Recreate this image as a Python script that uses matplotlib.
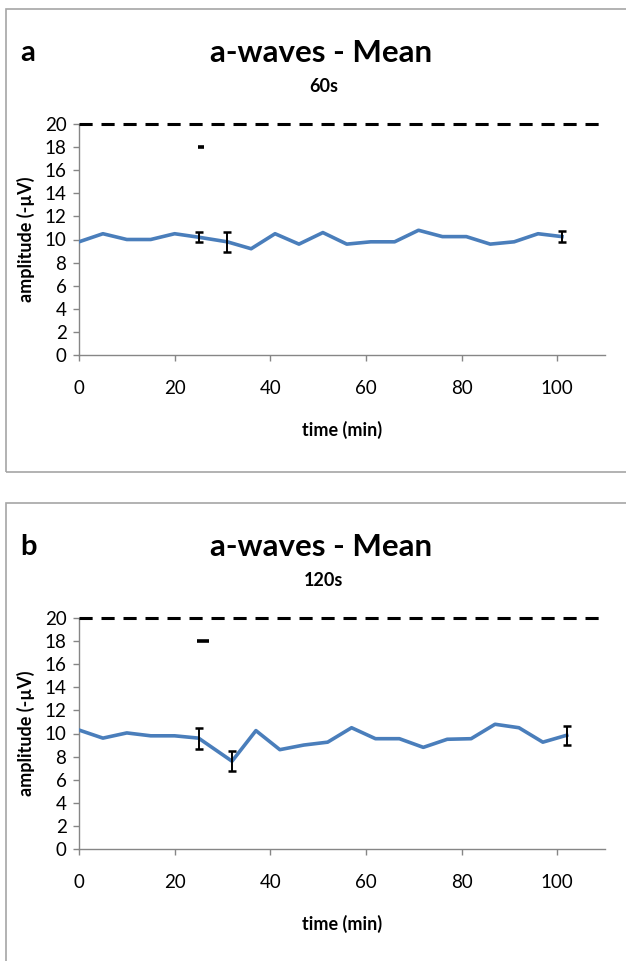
import matplotlib
matplotlib.use("Agg")
import matplotlib.pyplot as plt
from matplotlib.patches import Rectangle

plt.rcParams['font.family'] = ['Lato', 'DejaVu Sans']

# data
time_a = [0, 5, 10, 15, 20, 25, 31, 36, 41, 46, 51, 56, 61, 66, 71, 76, 81, 86, 91, 96, 101]
amp_a = [9.8, 10.5, 10.0, 10.0, 10.5, 10.2, 9.8, 9.2, 10.5, 9.6, 10.6,
         9.6, 9.8, 9.8, 10.8, 10.25, 10.25, 9.6, 9.8, 10.5, 10.25]
err_idx_a = [5, 6, 20]
err_a = [0.45, 0.85, 0.45]

time_b = [0, 5, 10, 15, 20, 25, 32, 37, 42, 47, 52, 57, 62, 67, 72, 77, 82, 87, 92, 97, 102]
amp_b = [10.3, 9.6, 10.05, 9.8, 9.8, 9.6, 7.6, 10.25, 8.6, 9.0, 9.25,
         10.5, 9.55, 9.55, 8.8, 9.5, 9.55, 10.8, 10.5, 9.25, 9.85]
err_idx_b = [5, 6, 20]
err_b = [0.9, 0.88, 0.83]

sig_a = (25.5, 18)
sig_b = (26, 18)
ref_level = 20

W, H = 626, 961
fig = plt.figure(figsize=(W / 100, H / 100), dpi=100)


def fx(x):
    return x / W


def fy(y):
    return 1 - y / H


def panel(top_px, bottom_px, letter, subtitle, t, amp, eidx, err, sig, sig_w):
    # the chart box (gray frame)
    fig.patches.append(Rectangle((fx(6), fy(bottom_px)), fx(640),
                                 (bottom_px - top_px) / H,
                                 transform=fig.transFigure, fill=False,
                                 edgecolor='#a6a6a6', lw=1.2))
    y0 = top_px + 346   # pixel of 0
    y20 = top_px + 115  # pixel of 20
    ax = fig.add_axes([fx(79), fy(y0), fx(605 - 79), (y0 - y20) / H])
    ax.plot(t, amp, color='#4a7ebb', lw=2.6, zorder=3)
    ax.errorbar([t[i] for i in eidx], [amp[i] for i in eidx], yerr=err,
                fmt='none', ecolor='black', elinewidth=1.4, capsize=3,
                capthick=1.8, zorder=4)
    ax.plot([sig[0]], [sig[1]], marker='_', color='black',
            markersize=sig_w, mew=2.6, ls='none', zorder=4)
    ax.axhline(ref_level, color='black', lw=2.2, ls=(0, (4.3, 2.9)),
               clip_on=False, zorder=5)
    ax.set_xlim(0, 110)
    ax.set_ylim(0, 20)
    ax.set_xticks([0, 20, 40, 60, 80, 100])
    ax.set_yticks(range(0, 21, 2))
    for s in ['top', 'right']:
        ax.spines[s].set_visible(False)
    for s in ['left', 'bottom']:
        ax.spines[s].set_color('#868686')
        ax.spines[s].set_linewidth(1.0)
    ax.tick_params(axis='both', colors='#868686', labelcolor='black',
                   labelsize=13.5, length=4, width=1.0)
    ax.tick_params(axis='x', pad=14)
    ax.tick_params(axis='y', pad=5)
    ax.set_xlabel('time (min)', fontsize=13, fontweight='bold', labelpad=17)
    ax.set_ylabel('amplitude (-µV)', fontsize=13, fontweight='bold', labelpad=7)

    fig.text(fx(28), fy(top_px + 44), letter, fontsize=21, fontweight='bold',
             ha='center', va='center')
    fig.text(fx(321), fy(top_px + 44), 'a-waves - Mean', fontsize=22.5,
             fontweight='bold', ha='center', va='center')
    fig.text(fx(324), fy(top_px + 78), subtitle, fontsize=13,
             fontweight='bold', ha='center', va='center')
    return ax


panel(9, 472, 'a', '60s', time_a, amp_a, err_idx_a, err_a, sig_a, 5)
panel(503, 975, 'b', '120s', time_b, amp_b, err_idx_b, err_b, sig_b, 9)

fig.savefig('out.png', dpi=100)
